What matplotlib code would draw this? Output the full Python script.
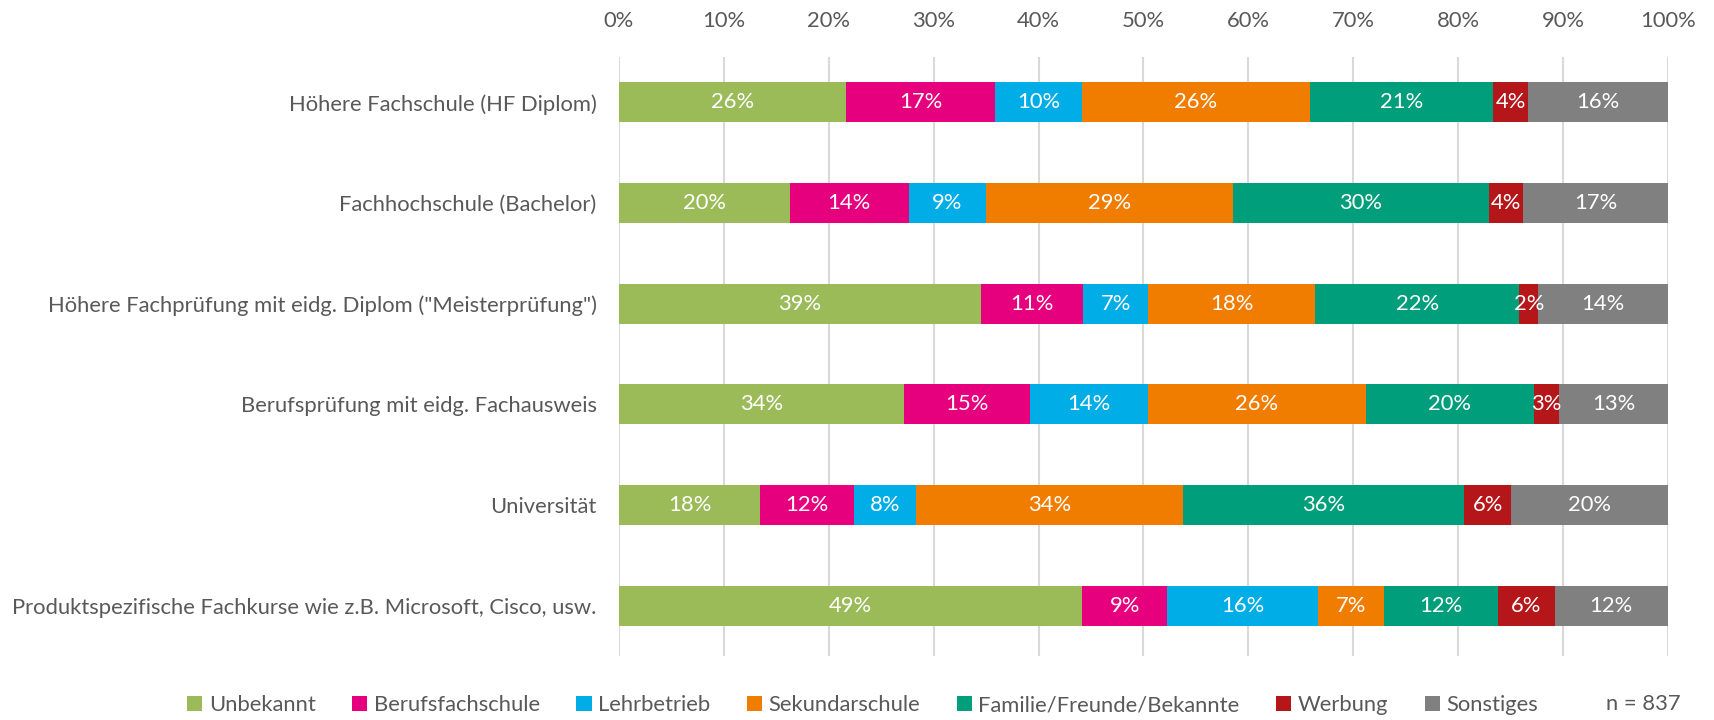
import matplotlib
matplotlib.use("Agg")
import matplotlib.pyplot as plt
from matplotlib.patches import Patch
from matplotlib.ticker import PercentFormatter
import numpy as np

plt.rcParams["font.family"] = ["Lato", "DejaVu Sans"]

# Survey: how respondents learned about each type of further education (n = 837)
categories = [
    "Höhere Fachschule (HF Diplom)",
    "Fachhochschule (Bachelor)",
    'Höhere Fachprüfung mit eidg. Diplom ("Meisterprüfung")',
    "Berufsprüfung mit eidg. Fachausweis",
    "Universität",
    "Produktspezifische Fachkurse wie z.B. Microsoft, Cisco, usw.",
]

series = [
    "Unbekannt",
    "Berufsfachschule",
    "Lehrbetrieb",
    "Sekundarschule",
    "Familie/Freunde/Bekannte",
    "Werbung",
    "Sonstiges",
]

unbekannt = [26, 20, 39, 34, 18, 49]
berufsfachschule = [17, 14, 11, 15, 12, 9]
lehrbetrieb = [10, 9, 7, 14, 8, 16]
sekundarschule = [26, 29, 18, 26, 34, 7]
familie = [21, 30, 22, 20, 36, 12]
werbung = [4, 4, 2, 3, 6, 6]
sonstiges = [16, 17, 14, 13, 20, 12]

sample_note = "n = 837"

colors = ["#9BBB59", "#E6007E", "#00ADE6", "#F07D00", "#009E7A", "#B5161A", "#808080"]
text_color = "#595959"
fs = 15.8

values = np.array([unbekannt, berufsfachschule, lehrbetrieb, sekundarschule,
                   familie, werbung, sonstiges], dtype=float)
# bars are scaled to 100 % per row (multiple answers possible)
shares = values / values.sum(axis=0)

fig = plt.figure(figsize=(17.15, 7.2), dpi=100)
ax = fig.add_axes([0.3609, 0.0889, 0.6117, 0.8319])

y = np.arange(len(categories))
left = np.zeros(len(categories))
for i, name in enumerate(series):
    bars = ax.barh(y, shares[i], left=left, height=0.40, color=colors[i],
                   label=name, zorder=3)
    for j, rect in enumerate(bars):
        ax.text(left[j] + shares[i][j] / 2, y[j], f"{values[i][j]:.0f}%",
                ha="center", va="center", color="white", fontsize=fs, zorder=4)
    left += shares[i]

ax.set_xlim(0, 1)
ax.set_ylim(5.5, -0.45)
ax.set_yticks(y)
ax.set_yticklabels(categories)
ax.set_xticks(np.linspace(0, 1, 11))
ax.xaxis.set_major_formatter(PercentFormatter(1.0, decimals=0))
ax.xaxis.tick_top()
ax.tick_params(axis="x", length=0, pad=19, labelsize=fs, labelcolor=text_color)
ax.tick_params(axis="y", length=0, pad=16, labelsize=fs, labelcolor=text_color)
ax.grid(axis="x", color="#D9D9D9", linewidth=1.5, zorder=0)
for s in ax.spines.values():
    s.set_visible(False)

handles = [Patch(facecolor=c, edgecolor="none") for c in colors]
fig.legend(handles, series, loc="lower center", ncol=7, frameon=False,
           bbox_to_anchor=(0.503, -0.021), fontsize=fs, labelcolor=text_color,
           handlelength=0.7, handleheight=0.7, handletextpad=0.3,
           columnspacing=1.65)
fig.text(0.980, 0.008, sample_note, ha="right", va="bottom", fontsize=fs,
         color=text_color)

fig.savefig("out.png", dpi=100)
